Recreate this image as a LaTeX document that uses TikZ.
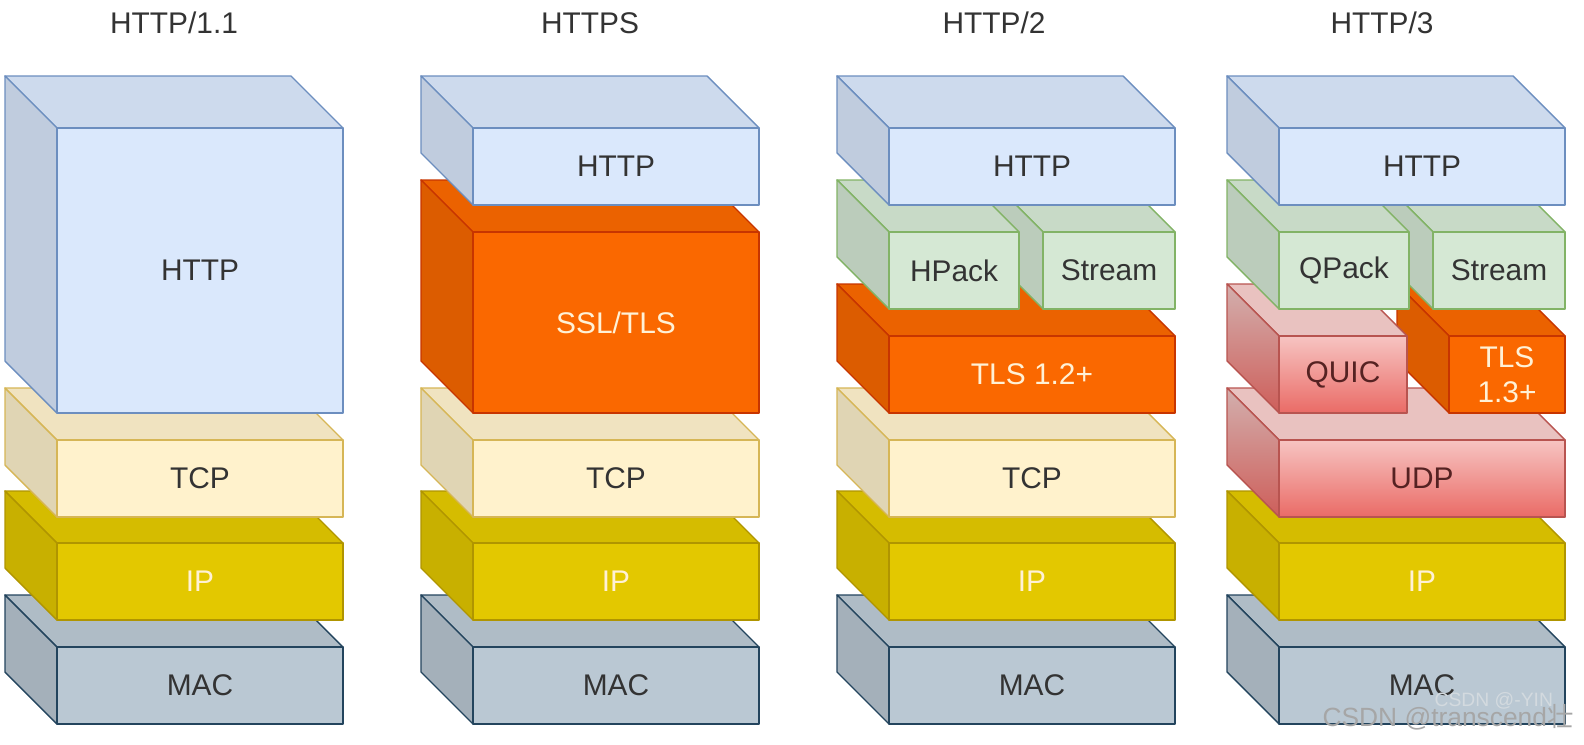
\documentclass[tikz,border=0pt]{standalone}
\usepackage{fontspec}
\setmainfont{Liberation Sans}
\newfontfamily\cjkfont{Noto Sans CJK SC}
\usepackage{tikz}
\usetikzlibrary{calc}
%%%%%%% colours, one set per protocol layer
\definecolor{httpfill}{HTML}{DAE8FC} \definecolor{httpline}{HTML}{6C8EBF}
\definecolor{tcpfill}{HTML}{FFF2CC}  \definecolor{tcpline}{HTML}{D6B656}
\definecolor{ipfill}{HTML}{E3C800}   \definecolor{ipline}{HTML}{B09500}
\definecolor{macfill}{HTML}{BAC8D3}  \definecolor{macline}{HTML}{23445D}
\definecolor{tlsfill}{HTML}{FA6800}  \definecolor{tlsline}{HTML}{C73500}
\definecolor{packfill}{HTML}{D5E8D4} \definecolor{packline}{HTML}{82B366}
\definecolor{quicfill}{HTML}{F8CECC} \definecolor{quicdark}{HTML}{EA6B66}
\definecolor{quicline}{HTML}{B85450}
\definecolor{textdark}{HTML}{333333}
\definecolor{textlight}{HTML}{FFF1D6}
\definecolor{quictext}{HTML}{552222}
\newcommand{\labelfont}{\fontsize{17}{20}\selectfont}
\newcommand{\cubedepth}{52}
\tikzset{
every picture/.style={x=0.2mm, y=-0.2mm, line width=0.8pt, line join=round},
%%%%%%%%%%  the three faces of a layer box and its label
set layer/.style n args={3}{
   layer front/.style={fill=#1, draw=#2},
   layer top/.style={fill=#1!94!black, draw=#2},
   layer side/.style={fill=#1!88!black, draw=#2},
   layer text/.style={text=#3, font=\labelfont, align=center, inner sep=0pt}},
http layer/.style={set layer={httpfill}{httpline}{textdark}},
tcp layer/.style={set layer={tcpfill}{tcpline}{textdark}},
ip layer/.style={set layer={ipfill}{ipline}{textlight}},
mac layer/.style={set layer={macfill}{macline}{textdark}},
tls layer/.style={set layer={tlsfill}{tlsline}{textlight}},
pack layer/.style={set layer={packfill}{packline}{textdark}},
%% quic and udp are shaded top to bottom
quic layer/.style={set layer={quicfill}{quicline}{quictext},
   layer front/.append style={top color=quicfill!90!quicdark, bottom color=quicdark},
   layer side/.append style={top color=quicfill!85!black, bottom color=quicdark!88!black}},
%%%%%%%%%%  texts
title/.style={font=\labelfont, text=textdark},
watermark/.style={font=\fontsize{15}{18}\selectfont, text=black!35},
small_watermark/.style={font=\fontsize{11}{13}\selectfont, text=white!80!macline}
}
%% #1 layer style, #2 node name, #3 #4 front top left, #5 #6 front bottom right, #7 text
\newcommand{\layercube}[7]{%
\begin{scope}[#1]
\draw[layer top] (#3,#4) -- (#3-\cubedepth,#4-\cubedepth)
   -- (#5-\cubedepth,#4-\cubedepth) -- (#5,#4) -- cycle;
\draw[layer side] (#3,#4) -- (#3-\cubedepth,#4-\cubedepth)
   -- (#3-\cubedepth,#6-\cubedepth) -- (#3,#6) -- cycle;
\draw[layer front] (#3,#4) rectangle (#5,#6);
\node[layer text] (#2) at ({(#3+#5)/2},{(#4+#6)/2}) {#7};
\end{scope}}

\begin{document}
\begin{tikzpicture}
\useasboundingbox (0,0) rectangle (1584,744);
%% column titles
\node[title] (title_h1) at (174,23) {HTTP/1.1};
\node[title] (title_hs) at (590,23) {HTTPS};
\node[title] (title_h2) at (994,23) {HTTP/2};
\node[title] (title_h3) at (1382,23) {HTTP/3};
%%%%%%%%%%%%%%%%%%%%%%%%%%%%%%%%%%%%%%%%%%%%%%%%%%%%
%% stacks are drawn bottom up, right box before left box
\begin{scope}[shift={(0,0)}]
\layercube{mac layer}{mac_h1}{57}{647}{343}{724}{MAC}
\layercube{ip layer}{ip_h1}{57}{543}{343}{620}{IP}
\layercube{tcp layer}{tcp_h1}{57}{440}{343}{517}{TCP}
\layercube{http layer}{http_h1}{57}{128}{343}{413}{HTTP}
\end{scope}
%%%%%%%%%%%%%%%%%%%%%%%%%%%%%%%%%%%%%%%%%%%%%%%%%%%%
\begin{scope}[shift={(416,0)}]
\layercube{mac layer}{mac_hs}{57}{647}{343}{724}{MAC}
\layercube{ip layer}{ip_hs}{57}{543}{343}{620}{IP}
\layercube{tcp layer}{tcp_hs}{57}{440}{343}{517}{TCP}
\layercube{tls layer}{ssl_hs}{57}{232}{343}{413}{SSL/TLS}
\layercube{http layer}{http_hs}{57}{128}{343}{205}{HTTP}
\end{scope}
%%%%%%%%%%%%%%%%%%%%%%%%%%%%%%%%%%%%%%%%%%%%%%%%%%%%
\begin{scope}[shift={(832,0)}]
\layercube{mac layer}{mac_h2}{57}{647}{343}{724}{MAC}
\layercube{ip layer}{ip_h2}{57}{543}{343}{620}{IP}
\layercube{tcp layer}{tcp_h2}{57}{440}{343}{517}{TCP}
\layercube{tls layer}{tls_h2}{57}{336}{343}{413}{TLS 1.2+}
\layercube{pack layer}{stream_h2}{211}{232}{343}{309}{Stream}
\layercube{pack layer}{hpack_h2}{57}{232}{187}{309}{HPack}
\layercube{http layer}{http_h2}{57}{128}{343}{205}{HTTP}
\end{scope}
%%%%%%%%%%%%%%%%%%%%%%%%%%%%%%%%%%%%%%%%%%%%%%%%%%%%
\begin{scope}[shift={(1222,0)}]
\layercube{mac layer}{mac_h3}{57}{647}{343}{724}{MAC}
\layercube{ip layer}{ip_h3}{57}{543}{343}{620}{IP}
\layercube{quic layer}{udp_h3}{57}{440}{343}{517}{UDP}
\layercube{tls layer}{tls_h3}{227}{336}{343}{413}{TLS\\1.3+}
\layercube{quic layer}{quic_h3}{57}{336}{185}{413}{QUIC}
\layercube{pack layer}{stream_h3}{211}{232}{343}{309}{Stream}
\layercube{pack layer}{qpack_h3}{57}{232}{187}{309}{QPack}
\layercube{http layer}{http_h3}{57}{128}{343}{205}{HTTP}
\end{scope}
%% watermarks
\node[small_watermark, anchor=base west] (mark_yin) at (1428,706) {CSDN @-YIN};
\node[watermark, anchor=base east] (mark_csdn) at (1580,726) {CSDN @transcend{\cjkfont 壮}};
\end{tikzpicture}
\end{document}
